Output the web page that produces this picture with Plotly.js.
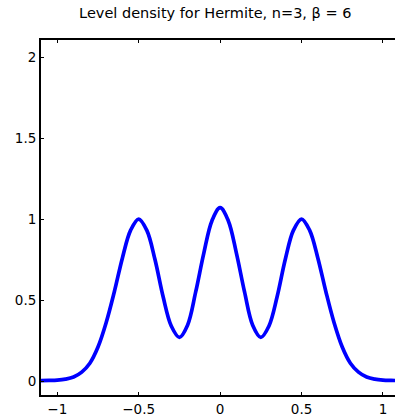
<!DOCTYPE html>
<html>
<head>
<meta charset="utf-8">
<script src="https://cdn.plot.ly/plotly-3.0.1.min.js"></script>
<style>html,body{margin:0;padding:0;background:#fff;}#chart{width:395px;height:417px;}</style>
</head>
<body>
<div id="chart"></div>
<script>
const xValues = [-1.1,-1.05,-1.0,-0.95,-0.9,-0.85,-0.8,-0.75,-0.7,-0.65,-0.6,-0.55,-0.5,-0.45,-0.4,-0.35,-0.3,-0.25,-0.2,-0.15,-0.1,-0.05,0,0.05,0.1,0.15,0.2,0.25,0.3,0.35,0.4,0.45,0.5,0.55,0.6,0.65,0.7,0.75,0.8,0.85,0.9,0.95,1.0,1.05,1.1];
const density = [0.003,0.004,0.006,0.012,0.025,0.055,0.11,0.21,0.36,0.55,0.76,0.93,1.0,0.93,0.75,0.52,0.34,0.27,0.345,0.55,0.79,0.99,1.07,0.99,0.79,0.55,0.345,0.27,0.34,0.52,0.75,0.93,1.0,0.93,0.76,0.55,0.36,0.21,0.11,0.055,0.025,0.012,0.006,0.004,0.003];
const xTicks = [-1,-0.5,0,0.5,1];
const xTickLabels = ["\u22121","\u22120.5","0","0.5","1"];
const yTicks = [0,0.5,1,1.5,2];
const yTickLabels = ["0","0.5","1","1.5","2"];
const titleText = "Level density for Hermite, n=3, \u03b2 = 6";

const trace = {
  x: xValues, y: density, type: 'scatter', mode: 'lines',
  line: {color: '#0000ff', width: 3.7, shape: 'spline', smoothing: 1},
  hoverinfo: 'skip'
};
const layout = {
  width: 395, height: 417,
  margin: {l: 41, r: 0, t: 40, b: 22, pad: 0},
  paper_bgcolor: '#fff', plot_bgcolor: '#fff',
  showlegend: false,
  font: {family: 'DejaVu Sans, sans-serif', color: '#000', size: 13},
  title: {text: titleText, x: 0.545, xanchor: 'center', y: 0.982, yanchor: 'top', font: {size: 14.5, family: 'DejaVu Sans, sans-serif'}},
  xaxis: {
    range: [-1.1, 1.074], tickvals: xTicks, ticktext: xTickLabels,
    showgrid: false, zeroline: false, showline: true, linecolor: '#000', linewidth: 2,
    mirror: 'ticks', ticks: 'inside', ticklen: 3, tickwidth: 1, tickcolor: '#000',
    ticklabelstandoff: 1, tickfont: {size: 13.5}
  },
  yaxis: {
    range: [-0.086, 2.105], tickvals: yTicks, ticktext: yTickLabels,
    showgrid: false, zeroline: false, showline: true, linecolor: '#000', linewidth: 2,
    mirror: false, ticks: 'inside', ticklen: 3, tickwidth: 1, tickcolor: '#000',
    ticklabelstandoff: 0, tickfont: {size: 13.5}
  }
};
Plotly.newPlot('chart', [trace], layout, {displayModeBar: false, staticPlot: true});
</script>
</body>
</html>
